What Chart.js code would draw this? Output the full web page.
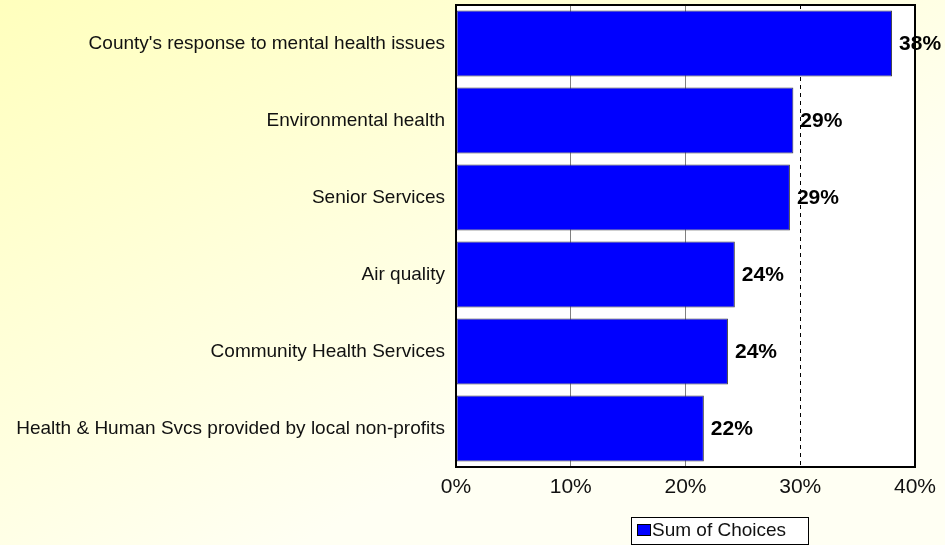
<!DOCTYPE html>
<html lang="en">
<head>
<meta charset="UTF-8">
<title>Sum of Choices</title>
<script src="https://cdn.jsdelivr.net/npm/chart.js@4.4.1/dist/chart.umd.min.js"></script>
<style>
    html, body { margin: 0; padding: 0; }
    body { width: 945px; height: 545px; overflow: hidden; }
</style>
</head>
<body>
<canvas id="grafico" width="945" height="545"></canvas>
<script>
    const categorias = [
        "County's response to mental health issues",
        'Environmental health',
        'Senior Services',
        'Air quality',
        'Community Health Services',
        'Health & Human Svcs provided by local non-profits'
    ];
    const escolhas = [38.0, 29.4, 29.1, 24.3, 23.7, 21.6];
    const ticksX = [0, 10, 20, 30, 40];
    const fonte = '"Liberation Sans", Arial, Helvetica, sans-serif';

    // fundo amarelo degradê
    const fundo = {
        id: 'fundo',
        beforeDraw(chart) {
            const c = chart.ctx;
            const g = c.createLinearGradient(0, 0, 300, chart.height);
            g.addColorStop(0, '#FFFFBD');
            g.addColorStop(1, '#FFFFF3');
            c.save();
            c.fillStyle = g;
            c.fillRect(0, 0, chart.width, chart.height);
            const a = chart.chartArea;
            c.fillStyle = '#FFFFFF';
            c.fillRect(a.left, a.top, a.right - a.left, a.bottom - a.top);
            c.restore();
        },
        beforeDatasetsDraw(chart) {
            // linha tracejada em 30%
            const c = chart.ctx;
            const a = chart.chartArea;
            const x = Math.round(chart.scales.x.getPixelForValue(30)) + 0.5;
            c.save();
            c.strokeStyle = '#000000';
            c.lineWidth = 1;
            c.setLineDash([4, 4]);
            c.beginPath();
            c.moveTo(x, a.top);
            c.lineTo(x, a.bottom);
            c.stroke();
            c.restore();
        },
        afterDatasetsDraw(chart) {
            const c = chart.ctx;
            const a = chart.chartArea;
            c.save();
            c.strokeStyle = '#000000';
            c.lineWidth = 2;
            c.strokeRect(a.left, a.top, a.right - a.left, a.bottom - a.top);

            // rótulos de valor
            const meta = chart.getDatasetMeta(0);
            c.fillStyle = '#000000';
            c.font = 'bold 21px ' + fonte;
            c.textAlign = 'left';
            c.textBaseline = 'middle';
            meta.data.forEach((bar, i) => {
                c.fillText(Math.round(escolhas[i]) + '%', bar.x + 7, bar.y + 1);
            });

            // legenda
            const lx = 631, ly = 517, lw = 177, lh = 27;
            c.fillStyle = '#FFFFFF';
            c.fillRect(lx, ly, lw, lh);
            c.strokeStyle = '#000000';
            c.lineWidth = 1;
            c.strokeRect(lx + 0.5, ly + 0.5, lw, lh);
            c.fillStyle = '#0000FF';
            c.fillRect(637, 524, 13, 11);
            c.strokeStyle = '#000000';
            c.strokeRect(637.5, 524.5, 13, 11);
            c.fillStyle = '#111111';
            c.font = '19px ' + fonte;
            c.textBaseline = 'middle';
            c.fillText(chart.data.datasets[0].label, 652, 531);
            c.restore();
        }
    };

    const ctx = document.getElementById('grafico').getContext('2d');
    new Chart(ctx, {
        type: 'bar',
        data: {
            labels: categorias,
            datasets: [{
                label: 'Sum of Choices',
                data: escolhas,
                backgroundColor: '#0000FF',
                borderColor: '#404040',
                borderWidth: 1,
                borderSkipped: false,
                barPercentage: 0.857,
                categoryPercentage: 1
            }]
        },
        options: {
            indexAxis: 'y',
            responsive: false,
            animation: false,
            layout: { padding: { top: 5, right: 30, left: 0, bottom: 0 } },
            plugins: {
                legend: { display: false },
                tooltip: { enabled: false }
            },
            scales: {
                x: {
                    min: 0,
                    max: 40,
                    afterBuildTicks(scale) {
                        scale.ticks = ticksX.map(v => ({ value: v }));
                    },
                    afterFit(scale) {
                        scale.height = 78;
                        scale.paddingLeft = 0;
                        scale.paddingRight = 0;
                    },
                    grid: {
                        drawTicks: false,
                        color: c => (c.tick && (c.tick.value === 10 || c.tick.value === 20)) ? '#808080' : 'rgba(0,0,0,0)'
                    },
                    border: { display: false },
                    ticks: {
                        padding: 8,
                        color: '#111111',
                        font: { family: fonte, size: 21 },
                        callback: v => v + '%'
                    }
                },
                y: {
                    afterFit(scale) {
                        scale.width = 456;
                        scale.paddingTop = 0;
                        scale.paddingBottom = 0;
                    },
                    grid: { display: false, drawTicks: false },
                    border: { display: false },
                    ticks: {
                        padding: 11,
                        color: '#111111',
                        font: { family: fonte, size: 19 }
                    }
                }
            }
        },
        plugins: [fundo]
    });
</script>
</body>
</html>
